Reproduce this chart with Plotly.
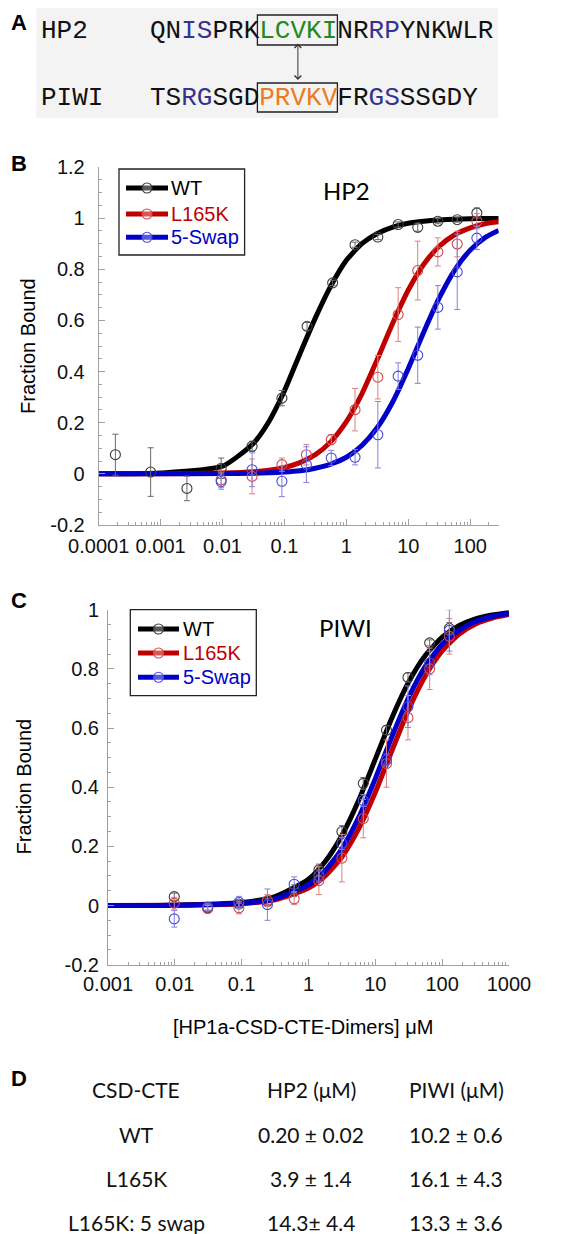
import plotly.graph_objects as go

# ---------------- data ----------------
# Panel A sequences
hp2_seq = "QNISPRKLCVKINRRPYNKWLR"
hp2_blue = [2, 3, 14, 15]
piwi_seq = "TSRGSGDPRVKVFRGSSSGDY"
piwi_blue = [2, 3, 14, 15]
box_start, box_end = 7, 12  # boxed residues (python slice)

# Panel B (HP2) binding data
b_wt_conc = [1.86e-4, 6.9e-4, 2.66e-3, 0.0095, 0.030, 0.091, 0.232, 0.60, 1.38, 3.22, 6.86, 14.2, 30.0, 61.7, 128]
b_wt_frac = [0.075, 0.007, -0.057, 0.022, 0.108, 0.296, 0.577, 0.747, 0.896, 0.926, 0.975, 0.964, 0.988, 0.994, 1.02]
b_wt_err = [0.08, 0.095, 0.048, 0.04, 0.02, 0.03, 0.015, 0.01, 0.01, 0.01, 0.01, 0.015, 0.01, 0.01, 0.02]

b_mut_conc = [0.0095, 0.030, 0.091, 0.226, 0.57, 1.38, 3.22, 6.86, 14.2, 30.0, 61.7, 128]
b_l165k_frac = [-0.023, -0.01, 0.036, 0.075, 0.134, 0.251, 0.378, 0.623, 0.795, 0.868, 0.899, 0.988]
b_l165k_err = [0.03, 0.068, 0.026, 0.04, 0.02, 0.083, 0.085, 0.105, 0.115, 0.055, 0.05, 0.03]
b_swap_frac = [-0.03, 0.016, -0.029, 0.036, 0.062, 0.065, 0.153, 0.382, 0.464, 0.651, 0.79, 0.922]
b_swap_err = [0.03, 0.066, 0.06, 0.07, 0.03, 0.03, 0.13, 0.052, 0.11, 0.085, 0.147, 0.045]

# Panel B fitted curves
b_fit_x = [1e-4, 1e-3, 0.01, 0.0316, 0.0562, 0.1, 0.178, 0.316, 0.562, 1.0, 1.78, 3.16,
           5.62, 10.0, 17.8, 31.6, 56.2, 100, 178, 288]
b_fit_wt = [0.0, 0.003, 0.03, 0.12, 0.205, 0.325, 0.47, 0.61, 0.735, 0.835, 0.90, 0.94,
            0.965, 0.98, 0.988, 0.993, 0.996, 0.998, 0.999, 0.999]
b_fit_l165k = [0.0, 0.0, 0.003, 0.008, 0.014, 0.025, 0.044, 0.075, 0.126, 0.204, 0.313, 0.448,
               0.590, 0.719, 0.820, 0.890, 0.935, 0.962, 0.979, 0.986]
b_fit_swap = [0.0, 0.0, 0.001, 0.002, 0.004, 0.007, 0.012, 0.022, 0.038, 0.065, 0.111, 0.181,
              0.282, 0.412, 0.555, 0.688, 0.797, 0.875, 0.926, 0.952]

# Panel C (PIWI) binding data
c_conc = [0.0098, 0.031, 0.091, 0.243, 0.61, 1.43, 3.16, 6.6, 14.7, 30.8, 65, 128]
c_wt_frac = [0.030, -0.008, 0.005, 0.013, 0.05, 0.12, 0.25, 0.413, 0.593, 0.771, 0.888, 0.937]
c_wt_err = [0.012, 0.01, 0.01, 0.01, 0.02, 0.02, 0.02, 0.02, 0.015, 0.015, 0.01, 0.02]
c_l165k_frac = [0.008, -0.01, -0.008, 0.017, 0.023, 0.084, 0.16, 0.294, 0.48, 0.635, 0.80, 0.91]
c_l165k_err = [0.02, 0.01, 0.02, 0.02, 0.02, 0.047, 0.08, 0.065, 0.08, 0.075, 0.07, 0.06]
c_swap_frac = [-0.045, -0.005, 0.011, 0.003, 0.072, 0.10, 0.21, 0.355, 0.492, 0.672, 0.82, 0.93]
c_swap_err = [0.028, 0.01, 0.02, 0.053, 0.025, 0.02, 0.02, 0.02, 0.02, 0.07, 0.04, 0.07]

# Panel C fitted curves
c_fit_x = [0.001, 0.01, 0.1, 0.316, 1.0, 1.78, 3.16, 5.62, 10.0, 17.8, 31.6, 56.2,
           100, 178, 316, 562, 1000]
c_fit_wt = [0.0001, 0.001, 0.010, 0.030, 0.089, 0.149, 0.237, 0.355, 0.495, 0.636, 0.756,
            0.846, 0.907, 0.946, 0.969, 0.982, 0.990]
c_fit_l165k = [0.0001, 0.0006, 0.006, 0.019, 0.059, 0.100, 0.164, 0.259, 0.383, 0.525, 0.663,
               0.777, 0.861, 0.917, 0.952, 0.972, 0.984]
c_fit_swap = [0.0001, 0.0008, 0.0075, 0.023, 0.070, 0.118, 0.192, 0.297, 0.429, 0.572, 0.704,
              0.809, 0.883, 0.930, 0.960, 0.977, 0.987]

series_names = ["WT", "L165K", "5-Swap"]

b_xticks = [1e-4, 1e-3, 1e-2, 1e-1, 1, 10, 100]
b_xticktext = ["0.0001", "0.001", "0.01", "0.1", "1", "10", "100"]
c_xticks = [1e-3, 1e-2, 1e-1, 1, 10, 100, 1000]
c_xticktext = ["0.001", "0.01", "0.1", "1", "10", "100", "1000"]
b_yticks = [-0.2, 0, 0.2, 0.4, 0.6, 0.8, 1.0, 1.2]
b_yticktext = ["-0.2", "0", "0.2", "0.4", "0.6", "0.8", "1", "1.2"]
c_yticks = [-0.2, 0, 0.2, 0.4, 0.6, 0.8, 1.0]
c_yticktext = ["-0.2", "0", "0.2", "0.4", "0.6", "0.8", "1"]

table_header = ["CSD-CTE", "HP2 (\u03bcM)", "PIWI (\u03bcM)"]
table_rows = [
    ["WT", "0.20 \u00b1 0.02", "10.2 \u00b1 0.6"],
    ["L165K", "3.9 \u00b1 1.4", "16.1 \u00b1 4.3"],
    ["L165K: 5 swap", "14.3\u00b1 4.4", "13.3 \u00b1 3.6"],
]

# ---------------- styles ----------------
W, H = 566, 1234


def X(px):
    return px / W


def Y(py):
    return 1 - py / H


SANS = "Liberation Sans, Arial, sans-serif"
CAL = "Lato, Carlito, Calibri, sans-serif"
MONO = "Liberation Mono, Courier New, monospace"
line_cols = ["#000000", "#c00000", "#0000c8"]
mark_cols = ["#3a3a3a", "#d24a4a", "#4a4ad8"]
err_cols = ["#6a6a6a", "#e08080", "#8080e8"]
AXC = "#a0a0a0"

fig = go.Figure()


def add_panel(xa, ya, fit_x, fits, datasets):
    for fy, col in zip(fits, line_cols):
        fig.add_trace(go.Scatter(x=fit_x, y=fy, mode="lines", line=dict(color=col, width=5, shape="spline", smoothing=0.6),
                                 xaxis=xa, yaxis=ya, hoverinfo="skip"))
    for (cx, fy, er), mc, ec in zip(datasets, mark_cols, err_cols):
        fig.add_trace(go.Scatter(x=cx, y=fy, mode="markers",
                                 marker=dict(symbol="circle-open", size=10, color=mc, line=dict(width=1.1, color=mc)),
                                 error_y=dict(type="data", array=er, visible=True, color=ec, thickness=1, width=3),
                                 xaxis=xa, yaxis=ya))


add_panel("x", "y", b_fit_x, [b_fit_wt, b_fit_l165k, b_fit_swap],
          [(b_wt_conc, b_wt_frac, b_wt_err), (b_mut_conc, b_l165k_frac, b_l165k_err),
           (b_mut_conc, b_swap_frac, b_swap_err)])
add_panel("x2", "y2", c_fit_x, [c_fit_wt, c_fit_l165k, c_fit_swap],
          [(c_conc, c_wt_frac, c_wt_err), (c_conc, c_l165k_frac, c_l165k_err),
           (c_conc, c_swap_frac, c_swap_err)])


def minor_log(lo, hi):
    vals = []
    for e in range(lo, hi + 1):
        for m in range(2, 10):
            vals.append(m * 10.0 ** e)
    return vals


axis_common = dict(showline=True, linecolor=AXC, linewidth=1, ticks="inside", tickcolor=AXC, ticklen=6,
                   tickwidth=1, showgrid=False, zeroline=False, automargin=False,
                   tickfont=dict(family=SANS, size=20, color="#111"))

fig.update_layout(
    width=W, height=H, margin=dict(l=0, r=0, t=0, b=0, autoexpand=False), paper_bgcolor="white",
    plot_bgcolor="rgba(0,0,0,0)", showlegend=False,
    xaxis=dict(type="log", range=[-4, 2.46], domain=[X(90.7), X(490.7)], anchor="y",
               tickmode="array", tickvals=b_xticks, ticktext=b_xticktext, ticklabelstandoff=3,
               minor=dict(ticks="inside", ticklen=3, tickcolor=AXC, tickmode="array", tickvals=minor_log(-4, 2)),
               **axis_common),
    yaxis=dict(range=[-0.2, 1.2], domain=[Y(517), Y(159)], anchor="x",
               tickmode="array", tickvals=b_yticks, ticktext=b_yticktext, ticklabelstandoff=9,
               minor=dict(ticks="inside", ticklen=3, tickcolor=AXC, dtick=0.05, tick0=0),
               **axis_common),
    xaxis2=dict(type="log", range=[-3, 3], domain=[X(100), X(501)], anchor="y2",
                tickmode="array", tickvals=c_xticks, ticktext=c_xticktext, ticklabelstandoff=1,
                minor=dict(ticks="inside", ticklen=3, tickcolor=AXC, tickmode="array", tickvals=minor_log(-3, 2)),
                **axis_common),
    yaxis2=dict(range=[-0.2, 1.0], domain=[Y(956.7), Y(601.7)], anchor="x2",
                tickmode="array", tickvals=c_yticks, ticktext=c_yticktext, ticklabelstandoff=4,
                minor=dict(ticks="inside", ticklen=3, tickcolor=AXC, dtick=0.05, tick0=0),
                **axis_common),
)

shapes = []
ann = []

# ---------- Panel A ----------
shapes.append(dict(type="rect", xref="paper", yref="paper", x0=X(28.3), x1=X(490), y0=Y(110), y1=Y(0),
                   fillcolor="#f3f3f3", line=dict(width=0), layer="below"))


def seq_html(seq, blue, hl_col):
    out = []
    for i, ch in enumerate(seq):
        if i in blue:
            out.append('<span style="color:#33338f">%s</span>' % ch)
        elif box_start <= i < box_end:
            out.append('<span style="color:%s">%s</span>' % (hl_col, ch))
        else:
            out.append(ch)
    return "".join(out)


FS_MONO = 26
cw = 0.6 * FS_MONO
seq_x = 141.7
for label, seq, blue, col, py in [("HP2", hp2_seq, hp2_blue, "#1f8a1f", 23),
                                   ("PIWI", piwi_seq, piwi_blue, "#ee7a1c", 90)]:
    ann.append(dict(text=label, x=X(31), y=Y(py), xanchor="left", yanchor="middle", showarrow=False,
                    font=dict(family=MONO, size=FS_MONO, color="#111")))
    ann.append(dict(text=seq_html(seq, blue, col), x=X(seq_x - 1.5), y=Y(py), xanchor="left", yanchor="middle",
                    showarrow=False, font=dict(family=MONO, size=FS_MONO, color="#111")))

bx0 = seq_x + box_start * cw - 1.5
bx1 = seq_x + box_end * cw + 0.5
for y0, y1 in [(7, 37), (75, 104)]:
    shapes.append(dict(type="rect", xref="paper", yref="paper", x0=X(bx0), x1=X(bx1), y0=Y(y1), y1=Y(y0),
                       line=dict(color="#222", width=1.3), fillcolor="rgba(0,0,0,0)"))
ann.append(dict(text="", x=X((bx0 + bx1) / 2 + 0.5), y=Y(72), ax=0, ay=-38, showarrow=True,
                arrowhead=4, startarrowhead=4, arrowside="end+start", arrowsize=1.3, arrowwidth=1, arrowcolor="#333"))

# ---------- panel letters ----------
for letter, py in [("A", 14), ("B", 156), ("C", 592), ("D", 1070)]:
    ann.append(dict(text="<b>%s</b>" % letter, x=X(1), y=Y(py), xanchor="left", yanchor="middle", showarrow=False,
                    font=dict(family=SANS, size=22, color="black")))

# ---------- panel titles ----------
ann.append(dict(text="HP2", x=X(338.3), y=Y(182), xanchor="center", yanchor="middle", showarrow=False,
                font=dict(family=CAL, size=24, color="black")))
ann.append(dict(text="PIWI", x=X(337.8), y=Y(619), xanchor="center", yanchor="middle", showarrow=False,
                font=dict(family=CAL, size=24, color="black")))

# ---------- axis titles ----------
ann.append(dict(text="Fraction Bound", x=X(20), y=Y(338), xanchor="center", yanchor="middle", textangle=-90,
                showarrow=False, font=dict(family=SANS, size=20, color="black")))
ann.append(dict(text="Fraction Bound", x=X(15.5), y=Y(779), xanchor="center", yanchor="middle", textangle=-90,
                showarrow=False, font=dict(family=SANS, size=20, color="black")))
ann.append(dict(text="[HP1a-CSD-CTE-Dimers] \u03bcM", x=X(295), y=Y(1019), xanchor="center", yanchor="middle",
                showarrow=False, font=dict(family=SANS, size=20, color="black")))

# ---------- legends ----------
for (bx0_, bx1_, by0_, by1_, ys, lx0, lx1, tx) in [
        (111, 236.6, 161, 247, [180, 206, 229.3], 118, 160, 161.5),
        (122.3, 248.3, 601.7, 687.7, [621, 645, 669.3], 130, 171, 172.5)]:
    shapes.append(dict(type="rect", xref="paper", yref="paper", x0=X(bx0_), x1=X(bx1_), y0=Y(by1_), y1=Y(by0_),
                       line=dict(color="#222", width=1.3), fillcolor="white"))
    for name, yy, lc, mc in zip(series_names, ys, line_cols, mark_cols):
        shapes.append(dict(type="line", xref="paper", yref="paper", x0=X(lx0), x1=X(lx1), y0=Y(yy), y1=Y(yy),
                           line=dict(color=lc, width=5)))
        cx = (lx0 + lx1) / 2
        shapes.append(dict(type="circle", xref="paper", yref="paper", x0=X(cx - 5), x1=X(cx + 5), y0=Y(yy + 5),
                           y1=Y(yy - 5), line=dict(color=mc, width=1.1), fillcolor="rgba(255,255,255,0.35)"))
        ann.append(dict(text=name, x=X(tx), y=Y(yy), xanchor="left", yanchor="middle", showarrow=False,
                        font=dict(family=SANS, size=20, color=lc)))

# ---------- table D ----------
col_x = [128.3, 303.2, 448]
row_y = [1081, 1126, 1170, 1214]
for r, row in enumerate([table_header] + table_rows):
    for c, txt in enumerate(row):
        ann.append(dict(text=txt, x=X(col_x[c]), y=Y(row_y[r]), xanchor="center", yanchor="middle",
                        showarrow=False, font=dict(family=CAL, size=21, color="#111")))

for a in ann:
    a["xref"] = "paper"
    a["yref"] = "paper"

fig.update_layout(shapes=shapes, annotations=ann)
fig.write_html("out.html")
